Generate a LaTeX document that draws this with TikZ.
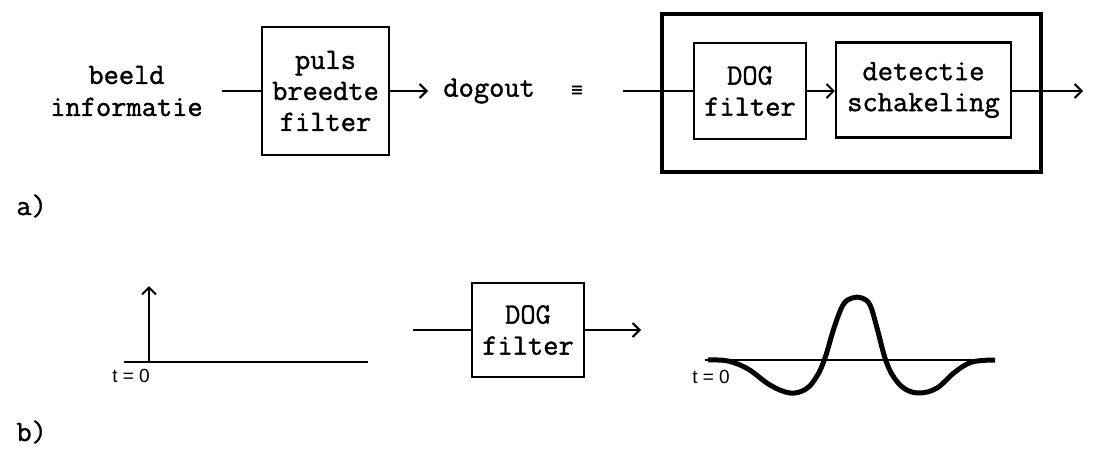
\documentclass[tikz,border=0pt]{standalone}
\usepackage{fontspec}
\newfontfamily\cour{Latin Modern Mono}[FakeBold=1.3]
\newfontfamily\labelfont{Liberation Sans}
\newfontfamily\symfont{DejaVu Sans}
\usetikzlibrary{arrows.meta}
\begin{document}
\begin{tikzpicture}[x=0.5pt,y=-0.5pt,
  txt/.style={font=\cour\fontsize{14.8pt}{16pt}\selectfont, align=center, inner sep=0pt},
  blk/.style={draw, line width=1.1pt, font=\cour\fontsize{14.8pt}{15.5pt}\selectfont, align=center, inner sep=0pt},
  wire/.style={line width=1.1pt},
  sig/.style={wire, -{Straight Barb[length=3.5pt,width=7pt,line width=1pt]}},
  tlab/.style={font=\labelfont\fontsize{9.5pt}{10pt}\selectfont, inner sep=0pt}
]
\useasboundingbox (0,0) rectangle (1093,455);

% ---- a) block diagram ----
\node[txt] (beeld) at (126.5,91) {beeld\\informatie};
\node[blk, minimum width=63.5pt, minimum height=64pt] (pbf) at (325.5,91) {puls\\breedte\\filter};
\coordinate (inA) at (222,91);
\draw[wire] (inA) -- (pbf.west);
\node[txt, anchor=west] (dogout) at (443,91) {dogout};
\draw[sig, shorten >=7.5pt] (pbf.east) -- (dogout.west);
\node[font=\symfont\bfseries\fontsize{8pt}{10pt}\selectfont, inner sep=0pt] (eq) at (577,91) {≡};

\node[draw, line width=2.4pt, minimum width=189.5pt, minimum height=79pt] (outer) at (851.5,93) {};
\node[blk, minimum width=56pt, minimum height=48pt] (dog) at (750,91) {DOG\\filter};
\node[blk, minimum width=87.5pt, minimum height=47.5pt] (det) at (923.5,90) {detectie\\schakeling};
\coordinate (inB) at (623,91);
\coordinate (outB) at (1083,91);
\draw[wire] (inB) -- (dog.west);
\draw[sig] (dog.east) -- (det.west |- dog.east);
\draw[sig] (det.east |- dog.east) -- (outB);

\node[txt, anchor=west] (la) at (16,206) {a)};

% ---- b) impulse response ----
\coordinate (b0) at (124,362);
\coordinate (b1) at (368,362);
\coordinate (imp0) at (149,362);
\coordinate (imp1) at (149,286);
\draw[wire] (b0) -- (b1);
\draw[sig] (imp0) -- (imp1);
\node[tlab] (t0a) at (131,376) {t = 0};

\node[blk, minimum width=56pt, minimum height=47pt] (dog2) at (528,330) {DOG\\filter};
\coordinate (in2) at (413,330);
\coordinate (out2) at (641,330);
\draw[wire] (in2) -- (dog2.west);
\draw[sig] (dog2.east) -- (out2);

\coordinate (c0) at (705,360);
\coordinate (c1) at (995,360);
\draw[wire] (c0) -- (c1);
\draw[line width=2.5pt, line join=round] plot[smooth, tension=0.6] coordinates {
  (708,360) (728,361) (748,369) (770,385) (790,393) (806,389) (817,376)
  (825,358) (834,328) (843,305) (852,298) (862,298) (870,305)
  (877,328) (885,358) (893,376) (905,389) (920,393) (937,388)
  (955,372) (972,362) (995,360)};
\node[tlab] (t0b) at (711,377) {t = 0};

\node[txt, anchor=west] (lb) at (16,432) {b)};
\end{tikzpicture}
\end{document}
